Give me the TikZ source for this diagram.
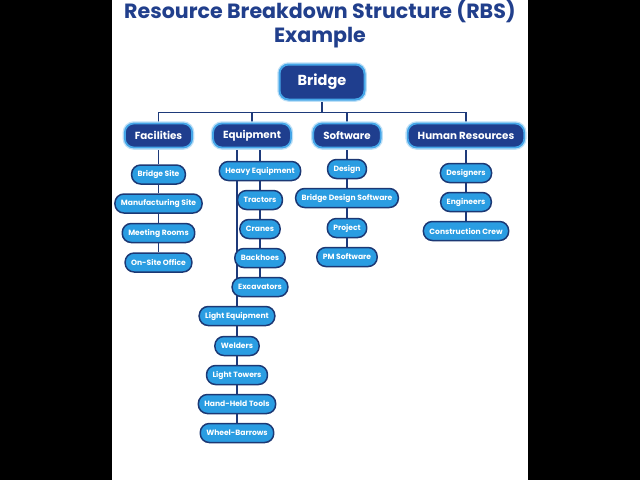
\documentclass[tikz,border=0pt]{standalone}
\usepackage{fontspec}
\setmainfont{Poppins}
\usetikzlibrary{backgrounds}
\definecolor{navy}{HTML}{213F8C}
\definecolor{lvlfill}{HTML}{1F3E8E}
\definecolor{lvlborder}{HTML}{45A6E8}
\definecolor{childfill}{HTML}{2A9DE2}
\definecolor{childborder}{HTML}{1C3874}
\definecolor{linec}{HTML}{1E3A7A}
\begin{document}
\begin{tikzpicture}[x=1pt,y=-1pt,
 titletext/.style={text=navy, font=\bfseries\fontsize{20.6}{24}\selectfont, inner sep=0pt, anchor=base},
 glow/.style={preaction={draw=lvlborder!35, line width=4.5pt}},
 rootbox/.style={glow, fill=lvlfill, draw=lvlborder, line width=2pt, rounded corners=9pt, text=white, font=\bfseries\fontsize{14.5}{16}\selectfont, minimum width=85pt, minimum height=35pt},
 lvlbox/.style={glow, fill=lvlfill, draw=lvlborder, line width=1.8pt, rounded corners=9pt, text=white, font=\bfseries\fontsize{10.3}{12}\selectfont, minimum height=24pt, inner xsep=10pt},
 childbox/.style={fill=childfill, draw=childborder, line width=1.5pt, rounded corners=9pt, text=white, font=\bfseries\fontsize{7.6}{8}\selectfont, minimum height=19pt, inner xsep=6pt},
 conn/.style={draw=linec, line width=1.6pt}]
\useasboundingbox (0,0) rectangle (640,480);
\node[titletext] (t1) at (320,18) {Resource Breakdown Structure (RBS)};
\node[titletext] (t2) at (320,42) {Example};
\node[rootbox] (bridge) at (322,82) {Bridge};
\node[lvlbox] (fac) at (158.5,135.5) {Facilities};
\node[lvlbox] (eq) at (252,135.5) {Equipment};
\node[lvlbox] (sw) at (347,135.5) {Software};
\node[lvlbox] (hr) at (466,135.5) {Human Resources};
% Facilities
\node[childbox] (f1) at (158.5,174.5) {Bridge Site};
\node[childbox] (f2) at (158.5,203.5) {Manufacturing Site};
\node[childbox] (f3) at (158.5,233) {Meeting Rooms};
\node[childbox] (f4) at (158.5,262.5) {On-Site Office};
% Equipment
\node[childbox] (he) at (260,171) {Heavy Equipment};
\node[childbox] (tr) at (260,200) {Tractors};
\node[childbox] (cr) at (260,229) {Cranes};
\node[childbox] (bh) at (260,258) {Backhoes};
\node[childbox] (ex) at (260,287) {Excavators};
\node[childbox] (le) at (237,316) {Light Equipment};
\node[childbox] (we) at (237,346) {Welders};
\node[childbox] (lt) at (237,375) {Light Towers};
\node[childbox] (ht) at (237,404) {Hand-Held Tools};
\node[childbox] (wb) at (237,433) {Wheel-Barrows};
% Software
\node[childbox] (s1) at (347,169) {Design};
\node[childbox] (s2) at (347,198) {Bridge Design Software};
\node[childbox] (s3) at (347,228) {Project};
\node[childbox] (s4) at (347,257) {PM Software};
% Human Resources
\node[childbox] (h1) at (466,173) {Designers};
\node[childbox] (h2) at (466,202) {Engineers};
\node[childbox] (h3) at (466,231) {Construction Crew};
\begin{pgfonlayer}{background}
 \fill[black] (0,0) rectangle (640,480);
 \fill[white] (112,0) rectangle (528,480);
 \draw[conn] (bridge.south) -- ++(0,12) -| (fac.north);
 \draw[conn] (bridge.south) -- ++(0,12) -| (eq.north);
 \draw[conn] (bridge.south) -- ++(0,12) -| (sw.north);
 \draw[conn] (bridge.south) -- ++(0,12) -| (hr.north);
 \draw[conn] (fac) -- (f1) -- (f2) -- (f3) -- (f4);
 \draw[conn] (he |- eq.south) -- (he) -- (tr) -- (cr) -- (bh) -- (ex);
 \draw[conn] (le |- eq.south) -- (le) -- (we) -- (lt) -- (ht) -- (wb);
 \draw[conn] (sw) -- (s1) -- (s2) -- (s3) -- (s4);
 \draw[conn] (hr) -- (h1) -- (h2) -- (h3);
\end{pgfonlayer}
\end{tikzpicture}
\end{document}
